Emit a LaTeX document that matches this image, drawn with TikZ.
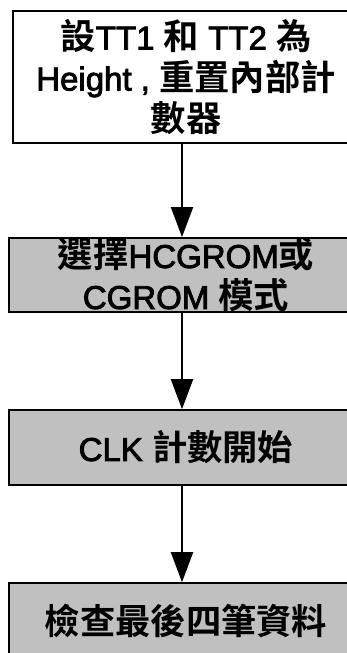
\documentclass[tikz,border=0pt]{standalone}
\usepackage{fontspec}
\setmainfont{Liberation Sans}[FakeBold=2.5]
\newfontfamily\cjkf{Noto Sans CJK TC}[Scale=1.07,BoldFont={* Bold}]
\newcommand{\C}[1]{{\cjkf\bfseries #1}}
\usetikzlibrary{arrows.meta}
\definecolor{boxgray}{HTML}{C0C0C0}
\begin{document}
\begin{tikzpicture}[x=1pt,y=1pt,
  flowbox/.style={draw=black,line width=1.6pt,inner sep=0pt,align=center,
    font=\fontsize{33}{41}\selectfont},
  graybox/.style={flowbox,fill=boxgray},
  flowarrow/.style={line width=2pt,-{Triangle[length=30pt,width=22pt]}}]
\useasboundingbox (0,0) rectangle (346,-653);
\fill[white] (0,0) rectangle (346,-653);
\coordinate (ax) at (182,0);
\node[flowbox,minimum width=346pt,minimum height=132pt] (b1) at (186,-77)
  {\C{設}TT1 \C{和} TT2 \C{為}\\Height\ ,\ \C{重置內部計}\\\C{數器}};
\node[graybox,minimum width=354pt,minimum height=74pt] (b2) at (186,-275)
  {\C{選擇}HCGROM\C{或}\\CGROM \C{模式}};
\node[graybox,minimum width=354pt,minimum height=75pt] (b3) at (186,-447.5)
  {CLK \C{計數開始}};
\node[graybox,minimum width=354pt,minimum height=75pt] (b4) at (186,-620.5)
  {\C{檢查最後四筆資料}};
\draw[flowarrow] (b1.south -| ax) -- (b2.north -| ax);
\draw[flowarrow] (b2.south -| ax) -- (b3.north -| ax);
\draw[flowarrow] (b3.south -| ax) -- (b4.north -| ax);
\end{tikzpicture}
\end{document}
